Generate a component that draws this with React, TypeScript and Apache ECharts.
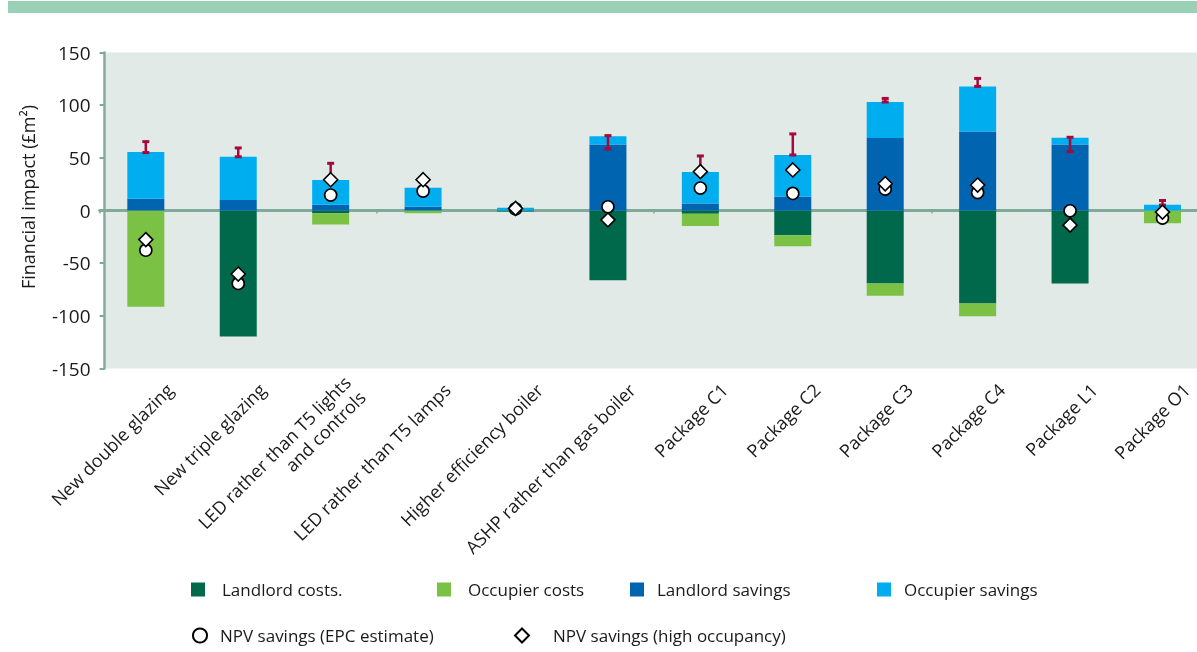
import React, { useEffect, useRef } from "react";
import * as echarts from "echarts";

const categories = [
  "New double glazing",
  "New triple glazing",
  "LED rather than T5 lights\nand controls",
  "LED rather than T5 lamps",
  "Higher efficiency boiler",
  "ASHP rather than gas boiler",
  "Package C1",
  "Package C2",
  "Package C3",
  "Package C4",
  "Package L1",
  "Package O1",
];
const landlordCosts = [0, -119.6, -2.5, 0, -1, -66.3, -3.2, -23.5, -69.2, -88.2, -69.2, 0];
const occupierCosts = [-91.4, 0, -10.8, -2.5, 0, 0, -11.4, -10.4, -11.7, -12.1, 0, -12];
const landlordSavings = [11.1, 9.9, 5.4, 3.5, 0, 62.6, 6.7, 13.0, 68.9, 75.0, 62.6, 0];
const occupierSavings = [44.5, 41.2, 23.6, 18.1, 2.5, 7.9, 29.8, 39.7, 34.0, 42.8, 6.4, 5.4];
const errorLow = [55, 51, 29, null, null, 58.4, 36.5, 52.7, 103, 117.8, 55.9, 5.1];
const errorHigh = [65.4, 59.4, 44.8, null, null, 71.1, 51.8, 72.7, 106.4, 125.4, 69.5, 9.5];
const npvEpc = [-37.7, -69.2, 14.7, 18.5, 1.5, 3.5, 21.3, 16.2, 20.4, 17.1, -0.3, -7.2];
const npvHigh = [-27.6, -60.3, 29.2, 29.2, 2.0, -8.9, 36.9, 38.5, 25.4, 24.2, -13.9, -1.5];
const yMin = -150;
const yMax = 150;
const yStep = 50;

const FONT = "'Open Sans', 'Noto Sans', sans-serif";
const TEXT = "#1a1a1a";
const AXIS = "#80ab9b";

const names = ["Landlord costs.", "Occupier costs", "Landlord savings", "Occupier savings"];
const colors = ["#00694b", "#7bc143", "#0064b0", "#00aeef"];
const barData = [landlordCosts, occupierCosts, landlordSavings, occupierSavings];
const epcName = "NPV savings (EPC estimate)";
const highName = "NPV savings (high occupancy)";

export default function App() {
  const ref = useRef<HTMLDivElement>(null);
  useEffect(() => {
    if (!ref.current) return;
    const chart = echarts.init(ref.current, null, { renderer: "svg" });
    const gridLeft = 99.6;
    const gridWidth = 1109.1;
    const top = 52.5;
    const height = 316;
    const labelShift = 24;

    const errData: any[] = [];
    categories.forEach((_, i) => {
      if (errorLow[i] != null && errorHigh[i] != null) errData.push([i, errorLow[i], errorHigh[i]]);
    });

    const legendPos = [
      [191, 581, 12],
      [437, 581, 12],
      [630, 581, 8],
      [877, 581, 8],
    ];

    const legends: any[] = names.map((n, i) => ({
      data: [n],
      left: legendPos[i][0],
      top: legendPos[i][1],
      padding: 0,
      icon: "rect",
      itemWidth: 14,
      itemHeight: 14,
      textStyle: { fontFamily: FONT, fontSize: 17, color: TEXT, padding: [0, 0, 0, legendPos[i][2]] },
      selectedMode: false,
    }));
    legends.push({
      data: [epcName],
      left: 192,
      top: 627,
      padding: 0,
      itemWidth: 14,
      itemHeight: 14,
      textStyle: { fontFamily: FONT, fontSize: 17, color: TEXT, padding: [0, 0, 0, 8] },
      selectedMode: false,
    });
    legends.push({
      data: [highName],
      left: 514,
      top: 627,
      padding: 0,
      itemWidth: 14,
      itemHeight: 14,
      textStyle: { fontFamily: FONT, fontSize: 17, color: TEXT, padding: [0, 0, 0, 19] },
      selectedMode: false,
    });

    const option: any = {
      animation: false,
      graphic: [
        { type: "rect", z: -10, shape: { x: 8, y: 1, width: 1189, height: 12 }, style: { fill: "#98d1b6" } },
        { type: "rect", z: -10, shape: { x: 106, y: top, width: 1091, height: height }, style: { fill: "#e1eae7" } },
        {
          type: "text",
          x: 28,
          y: 197,
          rotation: Math.PI / 2,
          style: {
            text: "Financial impact (£m²)",
            fontFamily: FONT,
            fontSize: 18,
            fill: TEXT,
            align: "center",
            verticalAlign: "middle",
          },
        },
      ],
      legend: legends,
      grid: [
        { left: gridLeft, width: gridWidth, top, height, containLabel: false, outerBoundsMode: "none" },
        { left: gridLeft + labelShift, width: gridWidth, top, height, containLabel: false, outerBoundsMode: "none" },
      ],
      xAxis: [
        {
          type: "category",
          data: categories,
          gridIndex: 0,
          axisLine: { onZero: true, lineStyle: { color: AXIS, width: 3 } },
          axisTick: { show: true, length: 3, lineStyle: { color: AXIS, width: 1.5 } },
          axisLabel: { show: false },
          splitLine: { show: false },
        },
        {
          type: "category",
          data: categories,
          gridIndex: 1,
          position: "bottom",
          axisLine: { show: false },
          axisTick: { show: false },
          axisLabel: {
            show: true,
            interval: 0,
            rotate: 45,
            margin: 18,
            fontFamily: FONT,
            fontSize: 18,
            color: TEXT,
            lineHeight: 21,
            hideOverlap: false,
          },
        },
      ],
      yAxis: [
        {
          type: "value",
          gridIndex: 0,
          min: yMin,
          max: yMax,
          interval: yStep,
          offset: -5,
          axisLine: { show: true, lineStyle: { color: AXIS, width: 2.5 } },
          axisTick: { show: true, length: 5, lineStyle: { color: AXIS, width: 2 } },
          axisLabel: { margin: 14, fontFamily: FONT, fontSize: 19, color: TEXT },
          splitLine: { show: false },
        },
        { type: "value", gridIndex: 1, min: yMin, max: yMax, show: false },
      ],
      series: [
        ...names.map((n, i) => ({
          name: n,
          type: "bar",
          stack: "total",
          barWidth: 37,
          data: barData[i],
          itemStyle: { color: colors[i] },
          xAxisIndex: 0,
          yAxisIndex: 0,
          z: 2,
        })),
        {
          type: "custom",
          name: "range",
          xAxisIndex: 0,
          yAxisIndex: 0,
          z: 3,
          encode: { x: 0, y: [1, 2] },
          data: errData,
          renderItem: (params: any, api: any) => {
            const x = api.value(0);
            const pLow = api.coord([x, api.value(1)]);
            const pHigh = api.coord([x, api.value(2)]);
            const hw = 3.5;
            const c = "#a6093d";
            return {
              type: "group",
              children: [
                { type: "line", shape: { x1: pLow[0], y1: pLow[1], x2: pHigh[0], y2: pHigh[1] }, style: { stroke: c, lineWidth: 2.5 } },
                { type: "line", shape: { x1: pHigh[0] - hw, y1: pHigh[1], x2: pHigh[0] + hw, y2: pHigh[1] }, style: { stroke: c, lineWidth: 3 } },
                { type: "line", shape: { x1: pLow[0] - hw, y1: pLow[1], x2: pLow[0] + hw, y2: pLow[1] }, style: { stroke: c, lineWidth: 3 } },
              ],
            };
          },
        },
        {
          name: epcName,
          type: "scatter",
          symbol: "circle",
          symbolSize: 12,
          data: npvEpc,
          z: 4,
          itemStyle: { color: "#ffffff", borderColor: "#000000", borderWidth: 1.6, opacity: 1 },
        },
        {
          name: highName,
          type: "scatter",
          symbol: "diamond",
          symbolSize: 14,
          data: npvHigh,
          z: 5,
          itemStyle: { color: "#ffffff", borderColor: "#000000", borderWidth: 1.6, opacity: 1 },
        },
      ],
    };
    chart.setOption(option);
    return () => chart.dispose();
  }, []);
  return <div ref={ref} style={{ position: "fixed", left: 0, top: 0, width: 1197, height: 652 }} />;
}
